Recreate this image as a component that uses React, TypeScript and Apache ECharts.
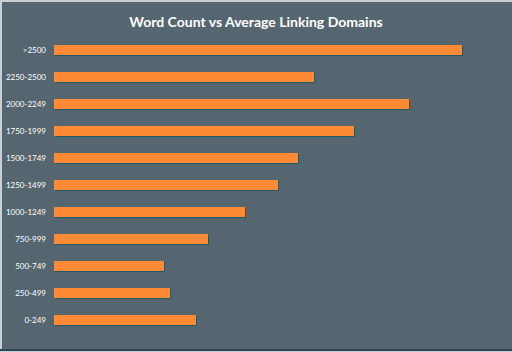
import React, { useEffect, useRef } from "react";
import * as echarts from "echarts";

const categories = [
  "0-249",
  "250-499",
  "500-749",
  "750-999",
  "1000-1249",
  "1250-1499",
  "1500-1749",
  "1750-1999",
  "2000-2249",
  "2250-2500",
  ">2500",
];
// Average linking domains
const values = [142, 116, 110, 154, 191, 224, 244, 300, 355, 260, 408];
const axisMax = 420;

const titleText = "Word Count vs Average Linking Domains";

export default function App() {
  const ref = useRef<HTMLDivElement>(null);
  useEffect(() => {
    if (!ref.current) return;
    const chart = echarts.init(ref.current, null, { renderer: "svg" });
    chart.setOption({
      animation: false,
      backgroundColor: "#566670",
      title: {
        text: titleText,
        left: "center",
        top: 9,
        textStyle: {
          color: "#ffffff",
          fontFamily: "Lato",
          fontWeight: "bold",
          fontSize: 14,
        },
      },
      graphic: [
        { type: "rect", shape: { x: 0, y: 0, width: 512, height: 2 }, style: { fill: "#c9cfd4" }, silent: true },
        { type: "rect", shape: { x: 0, y: 0, width: 2, height: 352 }, style: { fill: "#c9cfd4" }, silent: true },
        { type: "rect", shape: { x: 0, y: 349, width: 512, height: 2 }, style: { fill: "#2a4855" }, silent: true },
        { type: "rect", shape: { x: 0, y: 351, width: 512, height: 1 }, style: { fill: "#c9cfd4" }, silent: true },
      ],
      grid: { left: 54, top: 36.5, width: 420, height: 297 },
      xAxis: {
        type: "value",
        min: 0,
        max: axisMax,
        show: false,
      },
      yAxis: {
        type: "category",
        data: categories,
        axisLine: { show: false },
        axisTick: { show: false },
        splitLine: { show: false },
        axisLabel: {
          color: "#ffffff",
          fontFamily: "Lato",
          fontSize: 8,
          margin: 8,
        },
      },
      series: [
        {
          type: "bar",
          data: values,
          barWidth: 10,
          itemStyle: {
            color: "#ff8a36",
            shadowColor: "#215a6a",
            shadowOffsetX: 1,
            shadowOffsetY: 1,
            shadowBlur: 0,
          },
        },
      ],
    });
    return () => chart.dispose();
  }, []);
  return (
    <div
      ref={ref}
      style={{ position: "absolute", left: 0, top: 0, width: 512, height: 352 }}
    />
  );
}
